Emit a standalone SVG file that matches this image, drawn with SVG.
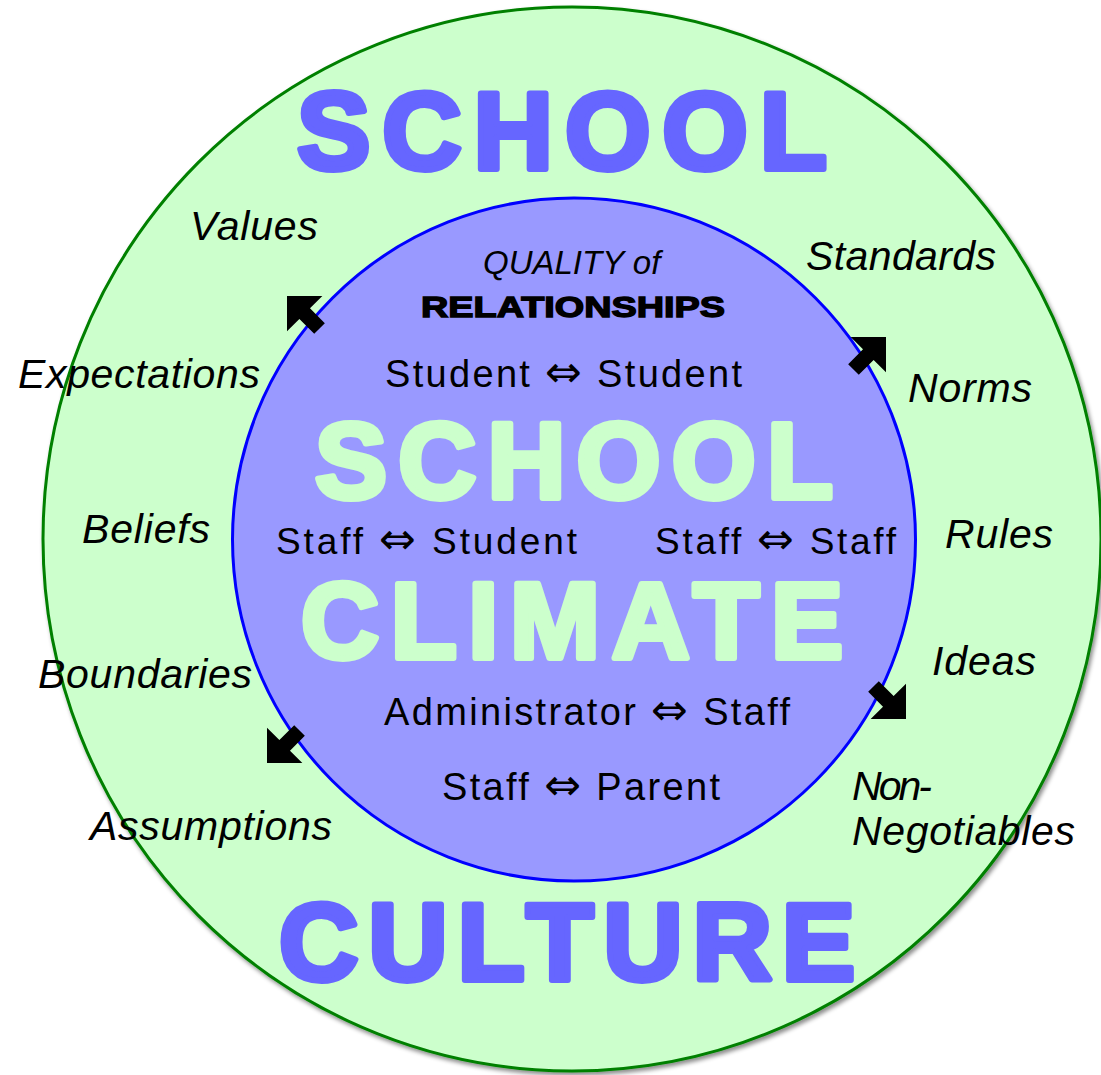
<svg xmlns="http://www.w3.org/2000/svg" xmlns:xlink="http://www.w3.org/1999/xlink" width="1101" height="1075" viewBox="0 0 1101 1075">
  <defs>
    <filter id="shadow" x="-5%" y="-5%" width="110%" height="110%">
      <feDropShadow dx="2" dy="3" stdDeviation="2" flood-color="#000000" flood-opacity="0.45"/>
    </filter>
    <path id="arrow" d="M0,0 L-25,-25 L-25,-7.5 L-46,-7.5 L-46,7.5 L-25,7.5 L-25,25 Z"/>
  </defs>
  <style>
    .lbl { font-family: "Liberation Sans", Arial, "DejaVu Sans", sans-serif; font-style: italic; font-size: 41px; fill: #000000; }
    .rel { font-family: "Liberation Sans", Arial, "DejaVu Sans", sans-serif; font-size: 38px; fill: #000000; }
    .mid { font-size: 37px; }
    .dbl { font-family: "DejaVu Sans", sans-serif; font-size: 44px; }
    .big { font-family: "Liberation Sans", Arial, sans-serif; font-weight: bold; font-size: 110px; stroke-width: 6px; stroke-linejoin: round; }
    .inner { font-size: 108px; }
    .blue { fill: #6666FF; stroke: #6666FF; }
    .pale { fill: #CCFFCC; stroke: #CCFFCC; }
    .arr { fill: #000000; }
  </style>
  <rect width="1101" height="1075" fill="#FFFFFF"/>

  <g id="culture-circle">
    <ellipse cx="572" cy="539" rx="529" ry="532" fill="#CCFFCC" stroke="#008000" stroke-width="3" filter="url(#shadow)"/>
  </g>

  <g id="climate-circle">
    <circle cx="574" cy="539.5" r="341.5" fill="#9999FF" stroke="#0000FF" stroke-width="3"/>
  </g>

  <g id="culture-title">
    <text class="big blue" x="297" y="169" textLength="530" lengthAdjust="spacing">SCHOOL</text>
    <text class="big blue" x="279" y="980" textLength="576" lengthAdjust="spacing">CULTURE</text>
  </g>

  <g id="climate-title">
    <text class="big inner pale" x="315" y="498" textLength="518" lengthAdjust="spacing">SCHOOL</text>
    <text class="big inner pale" x="301" y="658" textLength="542" lengthAdjust="spacing">CLIMATE</text>
  </g>

  <g id="culture-labels">
    <text class="lbl" x="190" y="240" textLength="128">Values</text>
    <text class="lbl" x="806" y="270" textLength="190">Standards</text>
    <text class="lbl" x="18" y="388" textLength="242">Expectations</text>
    <text class="lbl" x="908" y="402" textLength="124">Norms</text>
    <text class="lbl" x="82" y="543" textLength="128">Beliefs</text>
    <text class="lbl" x="945" y="548" textLength="108">Rules</text>
    <text class="lbl" x="38" y="688" textLength="214">Boundaries</text>
    <text class="lbl" x="932" y="675" textLength="104">Ideas</text>
    <text class="lbl" x="90" y="840" textLength="242">Assumptions</text>
    <text class="lbl" x="852" y="800" textLength="80">Non-</text>
    <text class="lbl" x="852" y="845" textLength="223">Negotiables</text>
  </g>

  <g id="relationships">
    <text x="483" y="274" style="font-family: 'Liberation Sans', Arial, sans-serif; font-style: italic; font-size: 33px; fill: #000000;">QUALITY of</text>
    <text x="421" y="317" textLength="304" lengthAdjust="spacingAndGlyphs" style="font-family: 'Liberation Sans', Arial, sans-serif; font-weight: bold; font-size: 30px; fill: #000000; stroke: #000000; stroke-width: 1.4px;">RELATIONSHIPS</text>
    <text class="rel" x="385" y="387" textLength="357">Student <tspan class="dbl">⇔</tspan> Student</text>
    <text class="rel mid" x="276" y="554" textLength="301">Staff <tspan class="dbl">⇔</tspan> Student</text>
    <text class="rel mid" x="655" y="554" textLength="241">Staff <tspan class="dbl">⇔</tspan> Staff</text>
    <text class="rel" x="384" y="725" textLength="406">Administrator <tspan class="dbl">⇔</tspan> Staff</text>
    <text class="rel" x="442" y="800" textLength="278">Staff <tspan class="dbl">⇔</tspan> Parent</text>
  </g>

  <g id="connectors">
    <use xlink:href="#arrow" class="arr" transform="translate(287,296) rotate(-135)"/>
    <use xlink:href="#arrow" class="arr" transform="translate(886,337) rotate(-45)"/>
    <use xlink:href="#arrow" class="arr" transform="translate(267,763) rotate(135)"/>
    <use xlink:href="#arrow" class="arr" transform="translate(906,719) rotate(45)"/>
  </g>
</svg>
